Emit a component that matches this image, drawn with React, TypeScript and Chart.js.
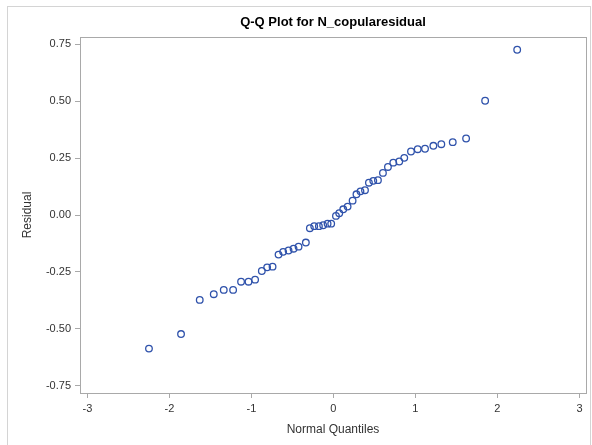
import React, { useEffect, useRef } from "react";
import { Chart, registerables } from "chart.js";

Chart.register(...registerables);

const normalQuantiles = [
  -2.249, -1.858, -1.63, -1.459, -1.337, -1.223, -1.126, -1.035, -0.955, -0.873,
  -0.808, -0.742, -0.669, -0.613, -0.547, -0.486, -0.425, -0.336, -0.287, -0.234,
  -0.177, -0.125, -0.071, -0.027, 0.031, 0.071, 0.12, 0.173, 0.234, 0.281,
  0.33, 0.385, 0.433, 0.486, 0.543, 0.604, 0.665, 0.73, 0.803, 0.864,
  0.946, 1.028, 1.117, 1.219, 1.316, 1.455, 1.618, 1.85, 2.241,
];

const residuals = [
  -0.587, -0.523, -0.373, -0.348, -0.329, -0.329, -0.293, -0.293, -0.284, -0.246,
  -0.23, -0.227, -0.174, -0.162, -0.156, -0.148, -0.139, -0.121, -0.058, -0.049,
  -0.049, -0.045, -0.038, -0.038, -0.004, 0.008, 0.025, 0.037, 0.063, 0.091,
  0.104, 0.109, 0.142, 0.15, 0.153, 0.185, 0.211, 0.23, 0.235, 0.251,
  0.279, 0.289, 0.291, 0.304, 0.311, 0.32, 0.336, 0.502, 0.726,
];

const xTicks = [-3, -2, -1, 0, 1, 2, 3];
const yTicks = [-0.75, -0.5, -0.25, 0, 0.25, 0.5, 0.75];

const titleText = "Q-Q Plot for N_copularesidual";
const xTitle = "Normal Quantiles";
const yTitle = "Residual";

const FONT = "'Liberation Sans', Arial, sans-serif";

const decorPlugin = {
  id: "decor",
  beforeDraw(chart: any) {
    const ctx = chart.ctx;
    ctx.save();
    ctx.fillStyle = "#ffffff";
    ctx.fillRect(0, 0, chart.width, chart.height);
    ctx.strokeStyle = "#d4d4d4";
    ctx.lineWidth = 1;
    ctx.strokeRect(7.5, 6.5, 583, 450);
    ctx.restore();
  },
  afterDraw(chart: any) {
    const ctx = chart.ctx;
    const a = chart.chartArea;
    ctx.save();
    // frame
    ctx.strokeStyle = "#a9a9a9";
    ctx.lineWidth = 1;
    ctx.strokeRect(Math.round(a.left) + 0.5, Math.round(a.top) + 0.5, Math.round(a.right - a.left), Math.round(a.bottom - a.top));
    // title
    ctx.fillStyle = "#000000";
    ctx.font = "bold 13px " + FONT;
    ctx.textAlign = "center";
    ctx.textBaseline = "middle";
    ctx.fillText(titleText, (a.left + a.right) / 2, 22);
    // axis titles
    ctx.font = "12px " + FONT;
    ctx.fillStyle = "#333333";
    ctx.fillText(xTitle, (a.left + a.right) / 2, 430);
    ctx.translate(28, (a.top + a.bottom) / 2);
    ctx.rotate(-Math.PI / 2);
    ctx.fillText(yTitle, 0, 0);
    ctx.restore();
  },
};

export default function App() {
  const ref = useRef<HTMLCanvasElement>(null);

  useEffect(() => {
    if (!ref.current) return;
    const chart = new Chart(ref.current, {
      type: "scatter",
      data: {
        datasets: [
          {
            data: normalQuantiles.map((x, i) => ({ x, y: residuals[i] })),
            pointRadius: 3.3,
            pointBorderWidth: 1.3,
            pointBorderColor: "#2f52ab",
            pointBackgroundColor: "rgba(255,255,255,0)",
            pointHoverRadius: 3.3,
          },
        ],
      },
      options: {
        responsive: false,
        animation: false,
        devicePixelRatio: 1,
        layout: { padding: { top: 37, right: 6, left: 0, bottom: 0 } },
        plugins: {
          legend: { display: false },
          title: { display: false },
          tooltip: { enabled: false },
        },
        scales: {
          x: {
            type: "linear",
            min: -3.09,
            max: 3.08,
            afterBuildTicks: (scale: any) => {
              scale.ticks = xTicks.map((v) => ({ value: v }));
            },
            afterFit: (scale: any) => {
              scale.height = 52;
            },
            border: { display: false },
            grid: {
              drawOnChartArea: false,
              drawTicks: true,
              tickLength: 5,
              color: "#a9a9a9",
            },
            ticks: {
              padding: 4,
              color: "#333333",
              font: { family: FONT, size: 11 },
              maxRotation: 0,
              callback: (v: any) => String(v),
            },
          },
          y: {
            type: "linear",
            min: -0.782,
            max: 0.782,
            afterBuildTicks: (scale: any) => {
              scale.ticks = yTicks.map((v) => ({ value: v }));
            },
            afterFit: (scale: any) => {
              scale.width = 80;
            },
            border: { display: false },
            grid: {
              drawOnChartArea: false,
              drawTicks: true,
              tickLength: 5,
              color: "#a9a9a9",
            },
            ticks: {
              padding: 4,
              color: "#333333",
              font: { family: FONT, size: 11 },
              callback: (v: any) => Number(v).toFixed(2),
            },
          },
        },
      },
      plugins: [decorPlugin],
    });
    return () => chart.destroy();
  }, []);

  return (
    <div style={{ position: "absolute", left: 0, top: 0, width: 592, height: 445 }}>
      <canvas ref={ref} width={592} height={445} style={{ display: "block" }} />
    </div>
  );
}
